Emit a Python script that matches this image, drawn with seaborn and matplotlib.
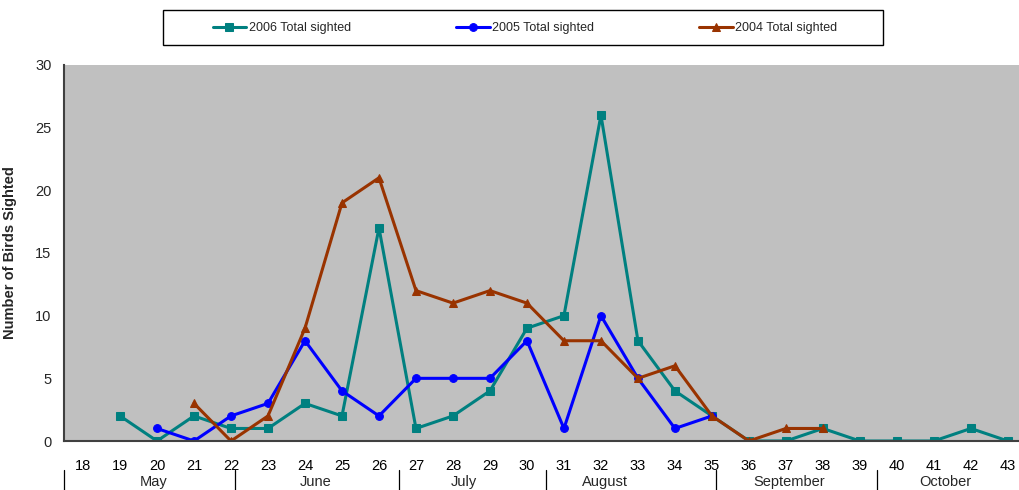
import numpy as np
import pandas as pd
import matplotlib
matplotlib.use("Agg")
import matplotlib.pyplot as plt
from matplotlib.lines import Line2D
from matplotlib.patches import Rectangle
from matplotlib.transforms import blended_transform_factory
import seaborn as sns

# Weekly sighting counts (week number of the year)
weeks = list(range(18, 44))

weeks_2006 = list(range(19, 44))
sighted_2006 = [2, 0, 2, 1, 1, 3, 2, 17, 1, 2, 4, 9, 10, 26, 8, 4, 2, 0, 0, 1, 0, 0, 0, 1, 0]

weeks_2005 = list(range(20, 36))
sighted_2005 = [1, 0, 2, 3, 8, 4, 2, 5, 5, 5, 8, 1, 10, 5, 1, 2]

weeks_2004 = list(range(21, 39))
sighted_2004 = [3, 0, 2, 9, 19, 21, 12, 11, 12, 11, 8, 8, 5, 6, 2, 0, 1, 1]

months = ["May", "June", "July", "August", "September", "October"]
# month group boundaries along the week axis
month_edges = [17.49, 22.11, 26.54, 30.51, 35.1, 39.46, 43.3]
month_label_x = [19.9, 24.3, 28.3, 32.1, 37.1, 41.3]

series = [
    ("2006 Total sighted", weeks_2006, sighted_2006, "#008080", "s", 5.6),
    ("2005 Total sighted", weeks_2005, sighted_2005, "#0000FF", "o", 5.6),
    ("2004 Total sighted", weeks_2004, sighted_2004, "#993300", "^", 6.2),
]

sns.set_style("white")
plt.rcParams["font.family"] = ["Liberation Sans", "DejaVu Sans"]

fig = plt.figure(figsize=(10.19, 4.90), dpi=100)
ax = fig.add_axes([64 / 1019, 49 / 490, 955 / 1019, 376 / 490])
ax.set_facecolor("#C0C0C0")

for label, wk, vals, color, marker, ms in series:
    df = pd.DataFrame({"week": wk, "count": vals})
    sns.lineplot(data=df, x="week", y="count", ax=ax, color=color, marker=marker,
                 markersize=ms, markeredgecolor=color, linewidth=2.2, label=label)

ax.set_xlim(17.486, 43.3)
ax.set_ylim(0, 30)
ax.set_yticks(np.arange(0, 31, 5))
ax.set_xticks(weeks)
ax.set_xticklabels([str(w) for w in weeks])
ax.set_xticks(np.arange(17.5, 43, 1), minor=True)
ax.tick_params(axis="x", which="major", length=0, pad=13, labelsize=10.5, colors="black")
ax.tick_params(axis="x", which="minor", length=5, width=1, color="#303030", direction="out")
ax.tick_params(axis="y", which="major", length=5, width=1, color="#303030",
               direction="out", labelsize=10.5, pad=4)

for side in ["top", "right"]:
    ax.spines[side].set_visible(False)
for side in ["left", "bottom"]:
    ax.spines[side].set_color("#404040")
    ax.spines[side].set_linewidth(1.5)

ax.set_xlabel("")
ax.set_ylabel("Number of Birds Sighted", fontsize=10.5, fontweight="bold")
ax.yaxis.set_label_coords(-47 / 955, 0.5)

# month grouping row under the week labels
trans = blended_transform_factory(ax.transData, ax.transAxes)
for x in month_edges[:-1]:
    ax.add_line(Line2D([x, x], [-29 / 376, -50 / 376], transform=trans,
                       color="black", linewidth=0.9, clip_on=False))
for name, x in zip(months, month_label_x):
    ax.text(x, -41 / 376, name, transform=trans, ha="center", va="center",
            fontsize=10.5, clip_on=False)

# legend in a boxed strip above the plot
handles, labels = ax.get_legend_handles_labels()
ax.get_legend().remove()
fig.legend(handles, labels, loc="center", bbox_to_anchor=(525 / 1019, 1 - 28 / 490),
           ncol=3, frameon=False, fontsize=9, handlelength=2.7, handletextpad=0.2,
           columnspacing=8.4, numpoints=1, markerscale=1.0)
fig.patches.append(Rectangle((163 / 1019, 1 - 45 / 490), 720 / 1019, 35 / 490,
                             transform=fig.transFigure, fill=False,
                             edgecolor="black", linewidth=1.0))

fig.savefig("out.png", dpi=100)
